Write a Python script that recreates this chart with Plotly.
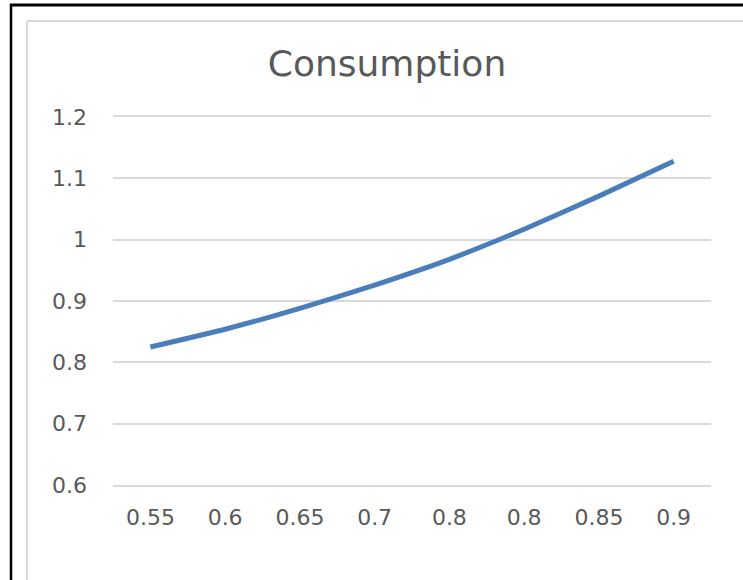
import plotly.graph_objects as go

# Categories along the x axis (as labelled) and the consumption series
categories = ["0.55", "0.6", "0.65", "0.7", "0.8", "0.8", "0.85", "0.9"]
consumption = [0.825, 0.854, 0.888, 0.926, 0.968, 1.017, 1.071, 1.128]
y_ticks = [0.6, 0.7, 0.8, 0.9, 1.0, 1.1, 1.2]
y_tick_text = ["0.6", "0.7", "0.8", "0.9", "1", "1.1", "1.2"]

W, H = 743, 580
ML, MR, MT, MB = 113, 32, 117, 95
PW, PH = W - ML - MR, H - MT - MB


def px_x(px):
    return (px - ML) / PW


def px_y(py):
    return (H - MB - py) / PH


# Labels repeat ("0.8" twice), so points sit at category indices
positions = list(range(len(categories)))

fig = go.Figure()
fig.add_trace(go.Scatter(
    x=positions,
    y=consumption,
    mode="lines",
    line=dict(color="#4a7ebb", width=5, shape="spline", smoothing=0.5),
    hoverinfo="skip",
    showlegend=False,
))

font_family = "DejaVu Sans"
grey_text = "#595959"
grid_grey = "#d9d9d9"

fig.update_layout(
    width=W,
    height=H,
    margin=dict(l=ML, r=MR, t=MT, b=MB),
    paper_bgcolor="white",
    plot_bgcolor="white",
    title=dict(
        text="Consumption",
        font=dict(family=font_family, size=36, color=grey_text),
        x=px_x(387), xref="paper", xanchor="center",
        y=1 - 63 / H, yref="container", yanchor="middle",
    ),
    xaxis=dict(
        range=[-0.5, len(categories) - 0.5],
        tickmode="array",
        tickvals=positions,
        ticktext=categories,
        showgrid=False,
        zeroline=False,
        # top and bottom lines double as the 1.2 and 0.6 gridlines
        showline=True,
        mirror=True,
        linecolor=grid_grey,
        linewidth=2,
        ticks="",
        ticklabelstandoff=12,
        tickfont=dict(family=font_family, size=22, color=grey_text),
        fixedrange=True,
    ),
    yaxis=dict(
        range=[0.6, 1.2],
        tickmode="array",
        tickvals=y_ticks,
        ticktext=y_tick_text,
        showgrid=True,
        gridcolor=grid_grey,
        gridwidth=2,
        zeroline=False,
        showline=False,
        ticks="",
        ticklabelstandoff=25,
        tickfont=dict(family=font_family, size=22, color=grey_text),
        fixedrange=True,
    ),
    shapes=[
        # light chart-area border (runs off the right and bottom edges)
        dict(type="line", xref="paper", yref="paper",
             x0=px_x(27), x1=px_x(W + 5), y0=px_y(21), y1=px_y(21),
             line=dict(color=grid_grey, width=2)),
        dict(type="line", xref="paper", yref="paper",
             x0=px_x(27), x1=px_x(27), y0=px_y(21), y1=px_y(H + 5),
             line=dict(color=grid_grey, width=2)),
        # black outer frame
        dict(type="line", xref="paper", yref="paper",
             x0=px_x(10), x1=px_x(W + 5), y0=px_y(5), y1=px_y(5),
             line=dict(color="black", width=3)),
        dict(type="line", xref="paper", yref="paper",
             x0=px_x(11), x1=px_x(11), y0=px_y(4), y1=px_y(H + 5),
             line=dict(color="black", width=2.5)),
    ],
)

fig.write_html("out.html")
